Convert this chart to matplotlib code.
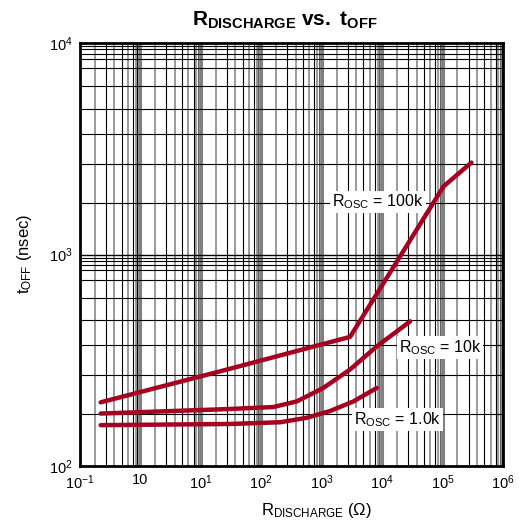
import matplotlib
matplotlib.use("Agg")
import matplotlib.pyplot as plt
import numpy as np

plt.rcParams['font.family'] = ['Liberation Sans', 'DejaVu Sans']
plt.rcParams['mathtext.fontset'] = 'custom'
plt.rcParams['mathtext.rm'] = 'Liberation Sans'
plt.rcParams['mathtext.it'] = 'Liberation Sans:italic'
plt.rcParams['mathtext.bf'] = 'Liberation Sans:bold'

# ---- data ----
r100k_x = [0.22, 30, 2950, 1.04e5, 3.0e5]
r100k_y = [200, 288, 408, 2100, 2720]

r10k_x = [0.22, 30, 158, 387, 1067, 2950, 8170, 29100]
r10k_y = [177, 186, 190, 202, 234, 286, 368, 483]

r1k_x = [0.22, 30, 205, 566, 1377, 3350, 8170]
r1k_y = [156, 158, 161, 169, 182, 202, 234]

x_ticks = [1e-1, 1e0, 1e1, 1e2, 1e3, 1e4, 1e5, 1e6]
x_tick_labels = ['$10^{-1}$', '10', '$10^{1}$', '$10^{2}$', '$10^{3}$',
                 '$10^{4}$', '$10^{5}$', '$10^{6}$']
y_ticks = [1e2, 1e3, 1e4]
y_tick_labels = ['$10^{2}$', '$10^{3}$', '$10^{4}$']

labels = [r'R$_{\mathrm{OSC}}$ = 100k', r'R$_{\mathrm{OSC}}$ = 10k', r'R$_{\mathrm{OSC}}$ = 1.0k']
label_pos = [(8600, 1770), (9.1e4, 363), (1.77e4, 166)]

# ---- figure ----
fig = plt.figure(figsize=(5.19, 5.27), dpi=100)
ax = fig.add_axes([80/519, 1-466/527, 423/519, 423/527])
ax.set_xscale('log')
ax.set_yscale('log')
ax.set_xlim(1e-1, 1e6)
ax.set_ylim(1e2, 1e4)

# custom log-paper grid
frac = [0.245, 0.43, 0.57, 0.69, 0.795, 0.88, 0.925, 0.95, 0.97, 0.985]
for d in range(-1, 6):
    for i, f in enumerate(frac):
        ax.axvline(10**(d+f), color=('black' if i % 2 else '#808080'),
                   lw=(0.8 if i % 2 else 1.1), zorder=1)
    if d > -1:
        ax.axvline(10**d, color='#808080', lw=2.2, zorder=1)
for d in range(2, 4):
    for f in frac:
        ax.axhline(10**(d+f), color='black', lw=0.8, zorder=1)
    if d > 2:
        ax.axhline(10**d, color='black', lw=1.0, zorder=1)

red = '#A50021'
for xs, ys in [(r100k_x, r100k_y), (r10k_x, r10k_y), (r1k_x, r1k_y)]:
    ax.plot(xs, ys, color=red, lw=3.2, solid_capstyle='round',
            solid_joinstyle='round', zorder=4)

for t, (px, py) in zip(labels, label_pos):
    ax.text(px, py, t, fontsize=11.5, ha='center', va='center', zorder=3,
            bbox=dict(facecolor='white', edgecolor='none', pad=1.5))

ax.set_xticks(x_ticks)
ax.set_xticklabels(x_tick_labels)
ax.set_yticks(y_ticks)
ax.set_yticklabels(y_tick_labels)
ax.xaxis.set_minor_locator(matplotlib.ticker.NullLocator())
ax.yaxis.set_minor_locator(matplotlib.ticker.NullLocator())
ax.tick_params(length=0, labelsize=10.5, pad=5)

for s in ax.spines.values():
    s.set_linewidth(2.0)
    s.set_zorder(5)

fig.text(285/519, 1-20/527, r'$\mathbf{R_{DISCHARGE}}$ $\mathbf{vs.}$ $\mathbf{t_{OFF}}$',
         fontsize=15, ha='center', va='center')
fig.text(316/519, 1-510/527, r'R$_{\mathrm{DISCHARGE}}$ ($\Omega$)', fontsize=12,
         ha='center', va='center')
fig.text(24/519, 1-254/527, r't$_{\mathrm{OFF}}$ (nsec)', fontsize=12,
         ha='center', va='center', rotation=90)

fig.savefig('out.png', dpi=100)
